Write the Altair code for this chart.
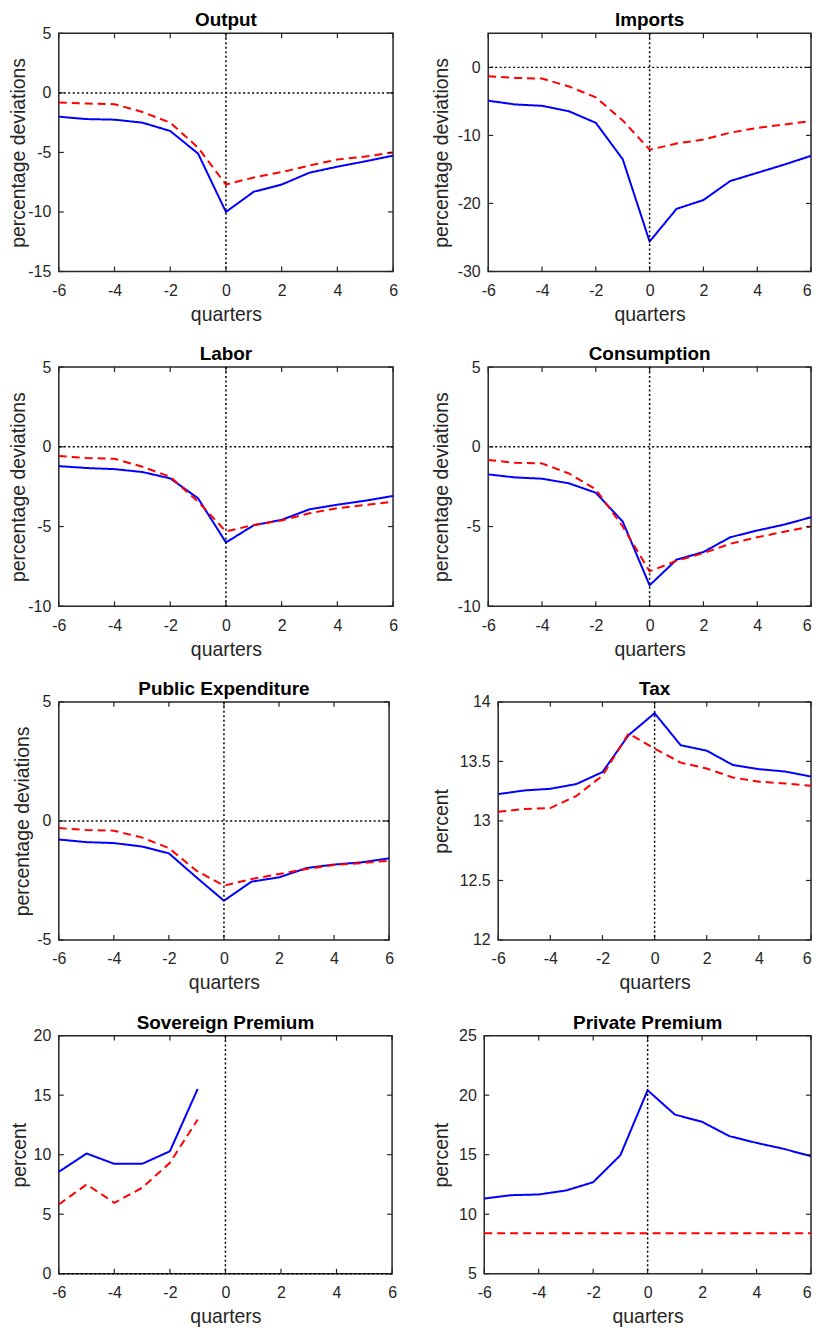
import altair as alt
import pandas as pd

FONT = "Liberation Sans"
AX = "#262626"

quarters = [-6, -5, -4, -3, -2, -1, 0, 1, 2, 3, 4, 5, 6]
sov_quarters = [-6, -5, -4, -3, -2, -1]
x_ticks = [-6, -4, -2, 0, 2, 4, 6]

output_blue = [-2.0, -2.2, -2.25, -2.5, -3.2, -5.1, -10.0, -8.3, -7.7, -6.7, -6.2, -5.75, -5.27]
output_red = [-0.8, -0.9, -0.95, -1.6, -2.5, -4.6, -7.7, -7.1, -6.65, -6.1, -5.6, -5.35, -5.0]
imports_blue = [-4.9, -5.45, -5.65, -6.45, -8.15, -13.5, -25.6, -20.8, -19.5, -16.7, -15.5, -14.3, -13.0]
imports_red = [-1.3, -1.55, -1.65, -2.8, -4.4, -7.8, -12.1, -11.2, -10.6, -9.6, -8.9, -8.4, -7.9]
labor_blue = [-1.21, -1.33, -1.4, -1.58, -1.98, -3.23, -6.0, -4.92, -4.58, -3.92, -3.63, -3.38, -3.08]
labor_red = [-0.58, -0.7, -0.75, -1.25, -1.88, -3.44, -5.31, -4.9, -4.62, -4.17, -3.85, -3.65, -3.44]
cons_blue = [-1.73, -1.92, -2.0, -2.29, -2.88, -4.69, -8.69, -7.08, -6.6, -5.67, -5.25, -4.88, -4.42]
cons_red = [-0.83, -1.0, -1.04, -1.67, -2.67, -5.0, -7.81, -7.15, -6.67, -6.08, -5.67, -5.33, -5.0]
pubexp_blue = [-0.78, -0.89, -0.93, -1.07, -1.36, -2.37, -3.35, -2.55, -2.37, -1.98, -1.83, -1.74, -1.57]
pubexp_red = [-0.3, -0.38, -0.41, -0.69, -1.14, -2.09, -2.72, -2.44, -2.23, -2.02, -1.85, -1.77, -1.67]
tax_blue = [13.225, 13.256, 13.27, 13.31, 13.41, 13.72, 13.905, 13.636, 13.59, 13.47, 13.435, 13.415, 13.373]
tax_red = [13.077, 13.1, 13.108, 13.21, 13.38, 13.734, 13.608, 13.49, 13.44, 13.365, 13.33, 13.315, 13.295]
sov_blue = [8.56, 10.1, 9.23, 9.23, 10.29, 15.52]
sov_red = [5.82, 7.5, 5.96, 7.22, 9.32, 12.95]
priv_blue = [11.32, 11.6, 11.66, 11.99, 12.69, 14.96, 20.41, 18.37, 17.76, 16.56, 15.99, 15.49, 14.87]
priv_red = [8.4, 8.4, 8.4, 8.4, 8.4, 8.4, 8.4, 8.4, 8.4, 8.4, 8.4, 8.4, 8.4]


def panel(title, ylabel, xs, blue, red, ydom, yticks, w, h, ext, hzero,
          title_offset=-5, flush_last=False):
    df = pd.DataFrame({
        "q": list(xs) + list(xs),
        "value": list(blue) + list(red),
        "series": ["blue"] * len(xs) + ["red"] * len(xs),
    })
    xsc = alt.Scale(domain=[-6, 6], nice=False, zero=False)
    ysc = alt.Scale(domain=ydom, nice=False, zero=False)
    xaxis_kw = dict(values=x_ticks, title="quarters", ticks=False, grid=False,
                    domain=False, labelPadding=11, titlePadding=7, labelExpr="datum.value + ''",
                    labelFontSize=16, titleFontSize=19.5, labelFlush=False,
                    labelFont=FONT, titleFont=FONT, labelColor=AX, titleColor=AX,
                    titleFontWeight="normal")
    if flush_last:
        xaxis_kw["labelAlign"] = {"condition": {"test": "datum.value == 6", "value": "right"},
                                  "value": "center"}
    xaxis = alt.Axis(**xaxis_kw)
    yaxis = alt.Axis(values=yticks, title=ylabel, ticks=False, grid=False,
                     domain=False, labelPadding=8, titlePadding=4, labelExpr="datum.value + ''",
                     labelFontSize=16, titleFontSize=19.5, labelFlush=False,
                     labelFont=FONT, titleFont=FONT, labelColor=AX, titleColor=AX,
                     titleFontWeight="normal", minExtent=ext, maxExtent=ext)
    X = lambda f: alt.X(f, scale=xsc, axis=xaxis)
    Y = lambda f: alt.Y(f, scale=ysc, axis=yaxis)
    lines = alt.Chart(df).mark_line(strokeWidth=2).encode(
        x=X("q:Q"),
        y=Y("value:Q"),
        color=alt.Color("series:N", scale=alt.Scale(domain=["blue", "red"], range=["#0000FF", "#FF0000"]), legend=None),
        strokeDash=alt.StrokeDash("series:N", scale=alt.Scale(domain=["blue", "red"], range=[[1, 0], [8, 5]]), legend=None),
    )
    xt = pd.DataFrame({"t": x_ticks})
    yt = pd.DataFrame({"t": yticks})
    tick_style = dict(color=AX, strokeWidth=1.2)
    xb = alt.Chart(xt).mark_rule(**tick_style).encode(
        x=X("t:Q"), y=alt.value(h), y2=alt.value(h - 5))
    xtp = alt.Chart(xt).mark_rule(**tick_style).encode(
        x=X("t:Q"), y=alt.value(0), y2=alt.value(5))
    yl = alt.Chart(yt).mark_rule(**tick_style).encode(
        y=Y("t:Q"), x=alt.value(0), x2=alt.value(5))
    yr = alt.Chart(yt).mark_rule(**tick_style).encode(
        y=Y("t:Q"), x=alt.value(w), x2=alt.value(w - 5))
    zero = pd.DataFrame({"z": [0]})
    vz = alt.Chart(zero).mark_rule(color="black", strokeWidth=1.5, strokeDash=[2, 2.5]).encode(
        x=X("z:Q"))
    layers = [lines, xb, xtp, yl, yr, vz]
    if hzero:
        hz = alt.Chart(zero).mark_rule(color="black", strokeWidth=1.5, strokeDash=[2, 2.5]).encode(
            y=Y("z:Q"))
        layers.append(hz)
    return alt.layer(*layers).properties(
        width=w, height=h,
        title=alt.TitleParams(text=title, fontSize=19, fontWeight="bold", font=FONT,
                              color="black", anchor="middle", offset=title_offset),
    )


PD = "percentage deviations"
p1 = panel("Output", PD, quarters, output_blue, output_red, [-15, 5], [-15, -10, -5, 0, 5], 335.5, 239, 26, True)
p2 = panel("Imports", PD, quarters, imports_blue, imports_red, [-30, 5], [-30, -20, -10, 0], 324, 239, 33, True,
           title_offset=2.5, flush_last=True)
p3 = panel("Labor", PD, quarters, labor_blue, labor_red, [-10, 5], [-10, -5, 0, 5], 335.5, 240, 26, True)
p4 = panel("Consumption", PD, quarters, cons_blue, cons_red, [-10, 5], [-10, -5, 0, 5], 324, 240, 33, True,
           flush_last=True)
p5 = panel("Public Expenditure", PD, quarters, pubexp_blue, pubexp_red, [-5, 5], [-5, 0, 5], 331.5, 239, 22, True)
p6 = panel("Tax", "percent", quarters, tax_blue, tax_red, [12, 14], [12, 12.5, 13, 13.5, 14], 314, 239, 43, False,
           flush_last=True)
p7 = panel("Sovereign Premium", "percent", sov_quarters, sov_blue, sov_red, [0, 20], [0, 5, 10, 15, 20], 334.5, 239, 25, True)
p8 = panel("Private Premium", "percent", quarters, priv_blue, priv_red, [5, 25], [5, 10, 15, 20, 25], 328, 239, 29, False,
           flush_last=True)

row1 = alt.hconcat(p1, p2, spacing=95, bounds="flush")
row2 = alt.hconcat(p3, p4, spacing=95, bounds="flush")
row3 = alt.hconcat(p5, p6, spacing=109, bounds="flush")
row4 = alt.hconcat(p7, p8, spacing=92, bounds="flush")

chart = alt.vconcat(row1, row2, row3, row4, spacing=19).properties(
    padding={"left": 0, "top": 0, "right": 0, "bottom": 0},
    background="white",
).configure_view(stroke=AX, strokeWidth=1.5)

chart.save("out.html", embed_options={"renderer": "svg", "actions": False})
